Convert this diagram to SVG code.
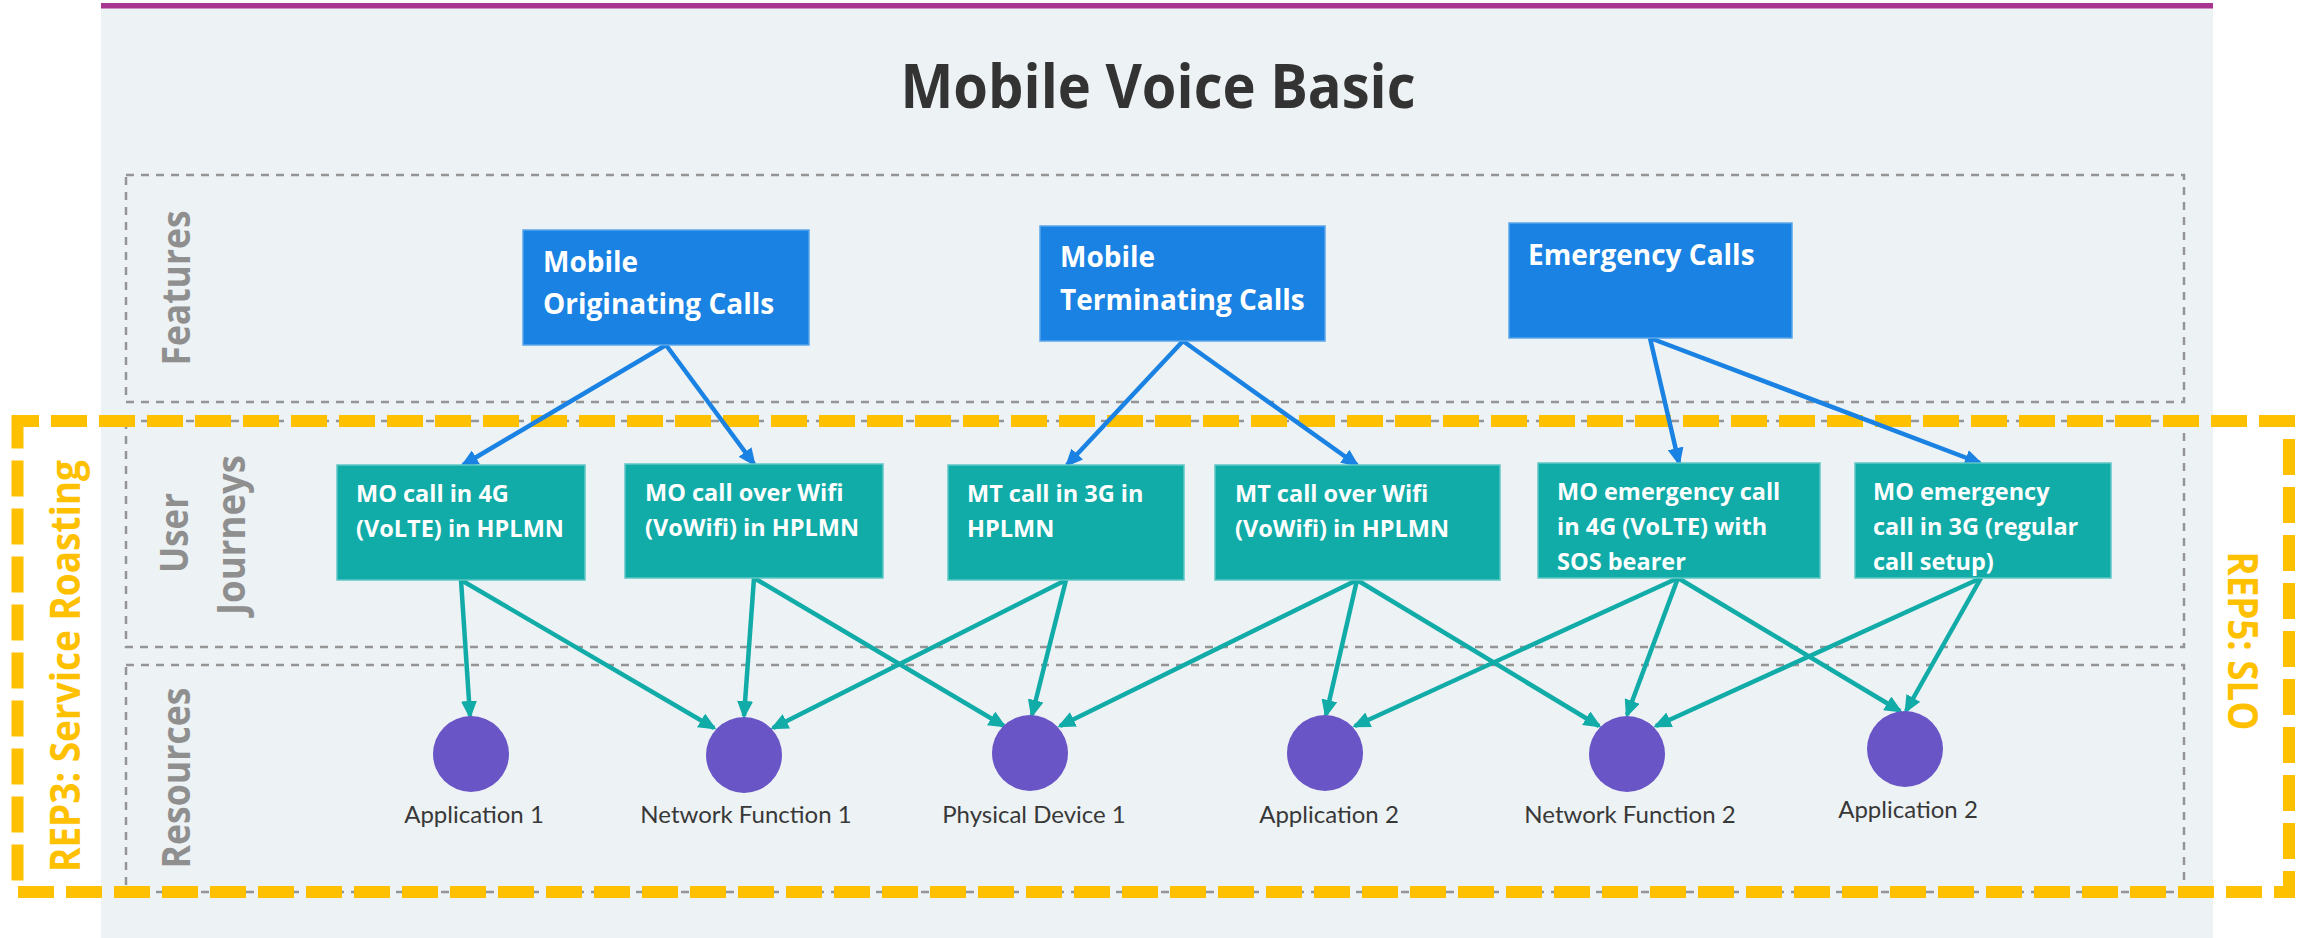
<svg xmlns="http://www.w3.org/2000/svg" width="2306" height="938" viewBox="0 0 2306 938">
<defs>
<style>
.lane{fill:none;stroke:#959595;stroke-width:2.5;stroke-dasharray:8 7}
.lanelbl{font-family:"Open Sans","Noto Sans",sans-serif;font-weight:700;font-size:40px;fill:#8f8f8f;text-anchor:middle}
.feat rect{fill:#1982E2;stroke:#5aa6ea;stroke-width:1.5}
.feat text{font-family:"Open Sans","Noto Sans",sans-serif;font-weight:700;font-size:28px;fill:#ffffff}
.uj rect{fill:#11ABA8;stroke:#5ec8c5;stroke-width:1.5}
.uj text{font-family:"Open Sans","Noto Sans",sans-serif;font-weight:700;font-size:23.5px;fill:#ffffff}
.res circle{fill:#6955C6}
.res text{font-family:Lato,"Open Sans",sans-serif;font-weight:400;font-size:24px;fill:#383838;text-anchor:middle}
.cb{fill:none;stroke:#1A82E2;stroke-width:4.5;marker-end:url(#ab)}
.ct{fill:none;stroke:#11ABA8;stroke-width:4.5;marker-end:url(#at)}
.rep{font-family:"Open Sans","Noto Sans",sans-serif;font-weight:700;font-size:42px;fill:#FFC000;text-anchor:middle}
</style>
<marker id="ab" viewBox="0 0 18 16" markerWidth="18" markerHeight="16" refX="15" refY="8" orient="auto" markerUnits="userSpaceOnUse"><path d="M0,0 L18,8 L0,16 z" fill="#1A82E2"/></marker>
<marker id="at" viewBox="0 0 18 16" markerWidth="18" markerHeight="16" refX="15" refY="8" orient="auto" markerUnits="userSpaceOnUse"><path d="M0,0 L18,8 L0,16 z" fill="#11ABA8"/></marker>
</defs>

<g id="background">
<rect x="101" y="3" width="2112" height="935" fill="#EDF2F5"/>
<rect x="101" y="3" width="2112" height="5.5" fill="#A8358F"/>
<text x="1158" y="108" font-family="'Open Sans','Noto Sans',sans-serif" font-weight="700" font-size="60" fill="#333333" text-anchor="middle" textLength="515" lengthAdjust="spacingAndGlyphs">Mobile Voice Basic</text>
</g>

<g id="lanes">
<rect class="lane" x="126" y="175" width="2058" height="227"/>
<rect class="lane" x="126" y="421" width="2058" height="226"/>
<rect class="lane" x="126" y="665" width="2058" height="227"/>
<text class="lanelbl" transform="translate(190,288) rotate(-90)" textLength="155" lengthAdjust="spacingAndGlyphs">Features</text>
<text class="lanelbl" transform="translate(188,533) rotate(-90)" textLength="80" lengthAdjust="spacingAndGlyphs">User</text>
<text class="lanelbl" transform="translate(245,535) rotate(-90)" textLength="160" lengthAdjust="spacingAndGlyphs">Journeys</text>
<text class="lanelbl" transform="translate(190,778) rotate(-90)" textLength="181" lengthAdjust="spacingAndGlyphs">Resources</text>
</g>

<g id="rep-frame">
<rect x="17.5" y="421" width="2271.5" height="471" fill="none" stroke="#FFC000" stroke-width="12" stroke-dasharray="36 12" stroke-dashoffset="14.5"/>
<text class="rep" transform="translate(80,666) rotate(-90)" textLength="412" lengthAdjust="spacingAndGlyphs">REP3: Service Roasting</text>
<text class="rep" transform="translate(2228,641) rotate(90)" textLength="179" lengthAdjust="spacingAndGlyphs">REP5: SLO</text>
</g>

<g id="connectors">
<line class="cb" x1="666" y1="345" x2="463" y2="465"/>
<line class="cb" x1="666" y1="345" x2="754" y2="464"/>
<line class="cb" x1="1183" y1="341" x2="1067" y2="465"/>
<line class="cb" x1="1183" y1="341" x2="1357" y2="465"/>
<line class="cb" x1="1650" y1="338" x2="1679" y2="463"/>
<line class="cb" x1="1650" y1="338" x2="1980" y2="463"/>

<line class="ct" x1="461" y1="580" x2="470" y2="716"/>
<line class="ct" x1="461" y1="580" x2="714" y2="728"/>
<line class="ct" x1="754" y1="578" x2="744" y2="716"/>
<line class="ct" x1="754" y1="578" x2="1004" y2="726"/>
<line class="ct" x1="1066" y1="580" x2="1032" y2="715"/>
<line class="ct" x1="1066" y1="580" x2="773" y2="728"/>
<line class="ct" x1="1357" y1="580" x2="1060" y2="726"/>
<line class="ct" x1="1357" y1="580" x2="1326" y2="715"/>
<line class="ct" x1="1357" y1="580" x2="1599" y2="726"/>
<line class="ct" x1="1678" y1="578" x2="1355" y2="726"/>
<line class="ct" x1="1678" y1="578" x2="1627" y2="715"/>
<line class="ct" x1="1678" y1="578" x2="1900" y2="711"/>
<line class="ct" x1="1981" y1="578" x2="1656" y2="726"/>
<line class="ct" x1="1981" y1="578" x2="1906" y2="711"/>
</g>

<g id="f-moc" class="feat"><rect x="523" y="230" width="286" height="115"/><text x="543" y="272">Mobile</text><text x="543" y="314">Originating Calls</text></g>
<g id="f-mtc" class="feat"><rect x="1040" y="226" width="285" height="115"/><text x="1060" y="267">Mobile</text><text x="1060" y="310">Terminating Calls</text></g>
<g id="f-ec" class="feat"><rect x="1509" y="223" width="283" height="115"/><text x="1528" y="265">Emergency Calls</text></g>

<g id="uj1" class="uj"><rect x="337" y="465" width="248" height="115"/><text x="356" y="502">MO call in 4G</text><text x="356" y="537">(VoLTE) in HPLMN</text></g>
<g id="uj2" class="uj"><rect x="625" y="464" width="258" height="114"/><text x="645" y="501">MO call over Wifi</text><text x="645" y="536">(VoWifi) in HPLMN</text></g>
<g id="uj3" class="uj"><rect x="948" y="465" width="236" height="115"/><text x="967" y="502">MT call in 3G in</text><text x="967" y="537">HPLMN</text></g>
<g id="uj4" class="uj"><rect x="1215" y="465" width="285" height="115"/><text x="1235" y="502">MT call over Wifi</text><text x="1235" y="537">(VoWifi) in HPLMN</text></g>
<g id="uj5" class="uj"><rect x="1538" y="463" width="282" height="115"/><text x="1557" y="500">MO emergency call</text><text x="1557" y="535">in 4G (VoLTE) with</text><text x="1557" y="570">SOS bearer</text></g>
<g id="uj6" class="uj"><rect x="1855" y="463" width="256" height="115"/><text x="1873" y="500">MO emergency</text><text x="1873" y="535">call in 3G (regular</text><text x="1873" y="570">call setup)</text></g>

<g id="r-app1" class="res"><circle cx="471" cy="754" r="38"/><text x="474" y="823">Application 1</text></g>
<g id="r-nf1" class="res"><circle cx="744" cy="755" r="38"/><text x="746" y="823">Network Function 1</text></g>
<g id="r-pd1" class="res"><circle cx="1030" cy="753" r="38"/><text x="1034" y="823">Physical Device 1</text></g>
<g id="r-app2" class="res"><circle cx="1325" cy="753" r="38"/><text x="1329" y="823">Application 2</text></g>
<g id="r-nf2" class="res"><circle cx="1627" cy="754" r="38"/><text x="1630" y="823">Network Function 2</text></g>
<g id="r-app2b" class="res"><circle cx="1905" cy="749" r="38"/><text x="1908" y="818">Application 2</text></g>
</svg>
